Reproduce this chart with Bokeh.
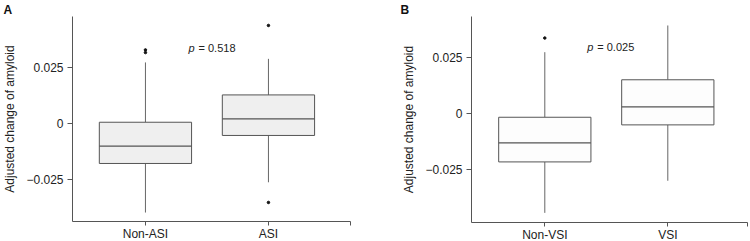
from bokeh.plotting import figure
from bokeh.layouts import row
from bokeh.models import FixedTicker, Range1d
from bokeh.core.properties import value
from bokeh.embed import file_html
from bokeh.resources import INLINE

# ---- data ----
groups_a = ["Non-ASI", "ASI"]
q1_a = [-0.0177, -0.0052]
med_a = [-0.0100, 0.0022]
q3_a = [0.0007, 0.0129]
lo_a = [-0.0396, -0.0261]
hi_a = [0.0274, 0.0290]
out_a_group = ["Non-ASI", "Non-ASI", "ASI", "ASI"]
out_a_val = [0.0330, 0.0318, 0.0439, -0.0351]
p_a = "= 0.518"

groups_b = ["Non-VSI", "VSI"]
q1_b = [-0.0214, -0.0049]
med_b = [-0.0129, 0.0031]
q3_b = [-0.0015, 0.0152]
lo_b = [-0.0441, -0.0298]
hi_b = [0.0275, 0.0394]
out_b_group = ["Non-VSI"]
out_b_val = [0.0338]
p_b = "= 0.025"

y_ticks = [-0.025, 0, 0.025]
y_tick_labels = ["\u22120.025", "0", "0.025"]
y_label = "Adjusted change of amyloid"

FONT = "Liberation Sans"
LINE = "#555555"


def panel(letter, groups, q1, med, q3, lo, hi, og, ov, ptxt, fill,
          xr, yr, borders, letter_off, p_xy):
    bl, br, bt, bb = borders
    p = figure(frame_width=375 - bl - br, frame_height=241 - bt - bb,
               output_backend="svg", toolbar_location=None,
               x_range=Range1d(*xr), y_range=Range1d(*yr),
               min_border_left=bl, min_border_right=br,
               min_border_top=bt, min_border_bottom=bb,
               title=letter)
    p.outline_line_color = None
    p.grid.visible = False
    p.background_fill_color = "white"
    p.border_fill_color = "white"

    p.title.align = "left"
    p.title.offset = letter_off
    p.title.standoff = 0
    p.title.text_font = FONT
    p.title.text_font_size = "12px"
    p.title.text_font_style = "bold"
    p.title.text_color = "#111111"

    xs = [i + 1 for i in range(len(groups))]
    pos = {g: i + 1 for i, g in enumerate(groups)}

    # whiskers
    p.segment(x0=xs, y0=q3, x1=xs, y1=hi, line_color="#666666", line_width=1)
    p.segment(x0=xs, y0=lo, x1=xs, y1=q1, line_color="#666666", line_width=1)
    # boxes
    p.vbar(x=xs, width=0.75, bottom=q1, top=q3, fill_color=fill,
           line_color=LINE, line_width=1)
    # medians
    p.segment(x0=[x - 0.375 for x in xs], y0=med, x1=[x + 0.375 for x in xs], y1=med,
              line_color=LINE, line_width=1.3)
    # outliers
    p.scatter(x=[pos[g] for g in og], y=ov, size=2.5, color="#111111")

    # p-value text
    p.text(x=[p_xy[0]], y=[p_xy[1]], text=["p"], text_font=value(FONT),
           text_font_size="11px", text_font_style="italic", text_color="#222222",
           text_baseline="middle", text_align="left")
    p.text(x=[p_xy[0]], y=[p_xy[1]], text=[ptxt], text_font=value(FONT),
           text_font_size="11px", text_color="#222222", x_offset=10,
           text_baseline="middle", text_align="left")

    # axes
    xa = p.xaxis[0]
    xa.axis_label = None
    end_tick = xr[1] - 0.004
    xa.ticker = FixedTicker(ticks=xs + [end_tick])
    ov_map = {float(x): g for x, g in zip(xs, groups)}
    ov_map[float(end_tick)] = ""
    xa.major_label_overrides = ov_map
    xa.minor_tick_line_color = None
    xa.major_tick_out = 4
    xa.major_tick_in = 0
    xa.major_label_standoff = 1
    xa.major_label_text_font = FONT
    xa.major_label_text_font_size = "12px"
    xa.major_label_text_color = "#222222"
    xa.axis_line_color = LINE
    xa.major_tick_line_color = LINE

    ya = p.yaxis[0]
    ya.ticker = FixedTicker(ticks=y_ticks)
    ya.major_label_overrides = {float(t): s for t, s in zip(y_ticks, y_tick_labels)}
    ya.minor_tick_line_color = None
    ya.major_tick_out = 5
    ya.major_tick_in = 0
    ya.major_label_standoff = 4
    ya.major_label_text_font = FONT
    ya.major_label_text_font_size = "12px"
    ya.major_label_text_color = "#222222"
    ya.axis_line_color = LINE
    ya.major_tick_line_color = LINE
    ya.axis_label = y_label
    ya.axis_label_text_font = FONT
    ya.axis_label_text_font_size = "12px"
    ya.axis_label_text_font_style = "normal"
    ya.axis_label_text_color = "#222222"
    ya.axis_label_standoff = 6
    return p


pa = panel("A", groups_a, q1_a, med_a, q3_a, lo_a, hi_a, out_a_group, out_a_val, p_a,
           "#efefef", (0.407, 2.667), (-0.0436, 0.0479), (72, 25, 16, 20),
           -69, (1.35, 0.0340))
pb = panel("B", groups_b, q1_b, med_b, q3_b, lo_b, hi_b, out_b_group, out_b_val, p_b,
           "#fdfdfd", (0.404, 2.648), (-0.0484, 0.0434), (96, 3, 16, 19),
           -71, (1.345, 0.0298))

layout = row(pa, pb)
open("out.html", "w").write(file_html(layout, INLINE))
